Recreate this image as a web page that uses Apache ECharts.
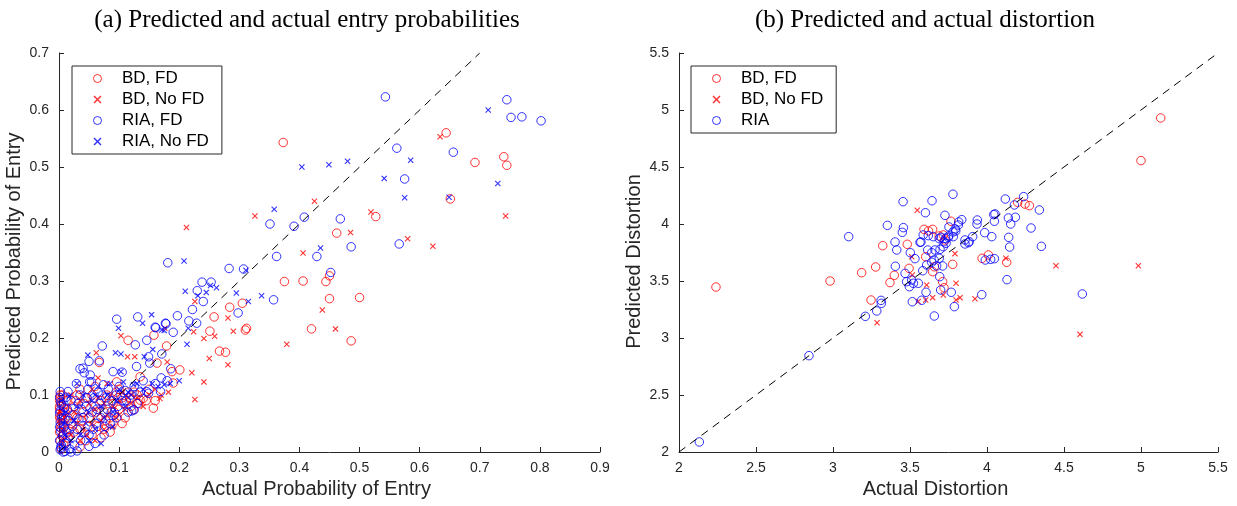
<!DOCTYPE html>
<html>
<head>
<meta charset="utf-8">
<script src="https://cdn.jsdelivr.net/npm/echarts@6/dist/echarts.min.js"></script>
<style>
html,body{margin:0;padding:0;background:#fff;}
#c{width:1237px;height:506px;}
</style>
</head>
<body>
<div id="c"></div>
<script>
// ---------- Panel (a): entry probabilities  [actual, predicted] ----------
const a_BD_FD = [
[0.373,0.543],[0.644,0.560],[0.692,0.508],[0.740,0.518],[0.745,0.503],[0.651,0.444],[0.527,0.413],[0.462,0.384],
[0.450,0.309],[0.406,0.300],[0.444,0.299],[0.450,0.269],[0.500,0.271],[0.420,0.216],[0.486,0.195],[0.375,0.299],
[0.258,0.237],[0.251,0.212],[0.305,0.261],[0.284,0.254],[0.310,0.214],[0.312,0.217],[0.267,0.177],[0.277,0.175],
[0.201,0.144],[0.190,0.121],[0.179,0.186],[0.158,0.205],[0.115,0.196],[0.067,0.157],[0.188,0.141],[0.163,0.156],
[0.135,0.132],[0.096,0.123],[0.157,0.077],[0.135,0.091],[0.124,0.074],[0.132,0.085],[0.140,0.094],[0.035,0.009],
[0.002,0.095],[0.003,0.085],[0.001,0.075],[0.004,0.065],[0.002,0.058],[0.006,0.050],[0.003,0.042],[0.001,0.035],
[0.005,0.028],[0.002,0.020],[0.008,0.012],[0.004,0.005],[0.010,0.070],[0.012,0.090],[0.006,0.100],[0.015,0.060],
[0.008,0.030],[0.020,0.050],[0.025,0.080],[0.030,0.100],[0.035,0.040],[0.040,0.070],[0.045,0.095],[0.050,0.060],
[0.055,0.100],[0.060,0.080],[0.065,0.045],[0.070,0.090],[0.075,0.070],[0.080,0.100],[0.085,0.060],[0.090,0.085],
[0.095,0.105],[0.100,0.075],[0.105,0.095],[0.110,0.060],[0.115,0.105],[0.120,0.080],[0.130,0.100],[0.145,0.090],
[0.150,0.110],[0.055,0.030],[0.045,0.020],[0.075,0.040],[0.090,0.050],[0.060,0.115],[0.035,0.110],[0.100,0.110],
[0.030,0.060],[0.070,0.025],[0.085,0.035],[0.025,0.035],[0.015,0.025],[0.105,0.050],[0.160,0.090],[0.065,0.060],
[0.001,0.090],[0.001,0.062],[0.003,0.048],[0.001,0.080],[0.007,0.070],[0.002,0.100],[0.010,0.045],[0.012,0.018],
[0.018,0.040],[0.022,0.065],[0.028,0.090],[0.038,0.055],[0.042,0.085],[0.048,0.045],[0.062,0.070],[0.078,0.055],
[0.082,0.085],[0.092,0.070],[0.098,0.095],[0.108,0.085],[0.118,0.095],[0.125,0.105]
];
const a_BD_NoFD = [
[0.634,0.553],[0.425,0.440],[0.519,0.421],[0.485,0.385],[0.743,0.414],[0.406,0.349],[0.580,0.374],[0.622,0.361],
[0.438,0.249],[0.460,0.216],[0.212,0.394],[0.326,0.414],[0.379,0.189],[0.226,0.264],[0.281,0.235],[0.290,0.212],
[0.259,0.203],[0.241,0.199],[0.224,0.211],[0.176,0.217],[0.281,0.153],[0.250,0.164],[0.221,0.139],[0.241,0.123],
[0.226,0.092],[0.182,0.105],[0.180,0.158],[0.103,0.204],[0.062,0.174],[0.114,0.167],[0.126,0.167],[0.168,0.094],
[0.005,0.040],[0.010,0.060],[0.015,0.080],[0.020,0.030],[0.025,0.070],[0.030,0.050],[0.035,0.090],[0.040,0.040],
[0.045,0.065],[0.050,0.085],[0.055,0.050],[0.060,0.075],[0.065,0.095],[0.070,0.055],[0.075,0.085],[0.080,0.065],
[0.085,0.100],[0.090,0.080],[0.095,0.060],[0.100,0.090],[0.105,0.105],[0.110,0.075],[0.115,0.095],[0.120,0.085],
[0.130,0.095],[0.140,0.080],[0.150,0.100],[0.160,0.110],[0.170,0.100],[0.045,0.030],[0.060,0.020],[0.075,0.040],
[0.035,0.020],[0.090,0.045],[0.100,0.065],[0.020,0.100],[0.055,0.110],[0.065,0.130],[0.080,0.120],
[0.002,0.070],[0.003,0.090],[0.001,0.055],[0.004,0.020]
];
const a_RIA_FD = [
[0.543,0.623],[0.745,0.618],[0.752,0.587],[0.770,0.588],[0.802,0.581],[0.562,0.533],[0.656,0.526],[0.575,0.479],
[0.408,0.412],[0.468,0.409],[0.429,0.343],[0.486,0.360],[0.566,0.365],[0.452,0.315],[0.181,0.332],[0.351,0.400],
[0.391,0.396],[0.362,0.343],[0.283,0.322],[0.307,0.321],[0.253,0.298],[0.238,0.298],[0.230,0.283],[0.240,0.264],
[0.222,0.250],[0.216,0.230],[0.229,0.226],[0.298,0.244],[0.357,0.267],[0.186,0.146],[0.178,0.225],[0.197,0.239],
[0.171,0.172],[0.161,0.218],[0.146,0.196],[0.131,0.237],[0.127,0.188],[0.096,0.233],[0.072,0.186],[0.067,0.160],
[0.050,0.159],[0.035,0.146],[0.042,0.139],[0.051,0.123],[0.177,0.226],[0.160,0.219],[0.190,0.210],[0.169,0.106],
[0.002,0.004],[0.004,0.012],[0.001,0.020],[0.006,0.028],[0.003,0.036],[0.008,0.044],[0.002,0.052],[0.005,0.060],
[0.001,0.068],[0.009,0.078],[0.003,0.088],[0.012,0.096],[0.002,0.106],[0.015,0.106],[0.011,0.015],[0.013,0.035],
[0.016,0.055],[0.014,0.075],[0.018,0.005],[0.020,0.090],[0.025,0.065],[0.029,0.120],[0.030,0.040],[0.032,0.085],
[0.035,0.100],[0.036,0.020],[0.040,0.147],[0.040,0.060],[0.045,0.080],[0.048,0.110],[0.050,0.030],[0.052,0.135],
[0.054,0.123],[0.055,0.070],[0.058,0.095],[0.060,0.015],[0.062,0.050],[0.065,0.105],[0.068,0.085],[0.070,0.060],
[0.074,0.118],[0.075,0.030],[0.078,0.095],[0.080,0.075],[0.082,0.110],[0.085,0.050],[0.088,0.090],[0.090,0.141],
[0.092,0.065],[0.095,0.100],[0.098,0.080],[0.100,0.115],[0.105,0.090],[0.110,0.108],[0.115,0.070],[0.121,0.072],
[0.125,0.074],[0.120,0.100],[0.125,0.115],[0.130,0.085],[0.135,0.105],[0.129,0.150],[0.146,0.106],[0.149,0.103],
[0.149,0.167],[0.151,0.156],[0.160,0.120],[0.170,0.130],[0.180,0.125],[0.140,0.125],[0.105,0.140],[0.020,0.000],
[0.030,0.002],[0.010,0.001],[0.050,0.010],
[0.001,0.044],[0.002,0.072],[0.001,0.096],[0.004,0.083],[0.003,0.008],[0.007,0.000],[0.010,0.058],[0.018,0.028],
[0.022,0.045],[0.026,0.012],[0.033,0.058],[0.038,0.075],[0.043,0.035],[0.047,0.095],[0.057,0.040],[0.063,0.075],
[0.072,0.100],[0.076,0.045],[0.087,0.070],[0.096,0.060],[0.102,0.100],[0.112,0.090]
];
const a_RIA_NoFD = [
[0.714,0.600],[0.585,0.512],[0.449,0.504],[0.480,0.510],[0.404,0.500],[0.541,0.480],[0.730,0.471],[0.575,0.446],
[0.649,0.447],[0.435,0.358],[0.358,0.426],[0.208,0.335],[0.311,0.319],[0.252,0.292],[0.231,0.274],[0.245,0.280],
[0.262,0.288],[0.210,0.282],[0.215,0.217],[0.213,0.189],[0.295,0.279],[0.315,0.264],[0.337,0.274],[0.175,0.213],
[0.171,0.214],[0.154,0.241],[0.139,0.226],[0.156,0.180],[0.103,0.172],[0.094,0.174],[0.048,0.170],[0.099,0.217],
[0.142,0.167],[0.103,0.141],[0.107,0.123],[0.089,0.044],[0.124,0.118],
[0.005,0.010],[0.010,0.030],[0.008,0.050],[0.012,0.070],[0.004,0.090],[0.020,0.020],[0.025,0.055],[0.030,0.080],
[0.035,0.030],[0.040,0.100],[0.045,0.050],[0.050,0.070],[0.055,0.090],[0.060,0.040],[0.065,0.115],[0.070,0.080],
[0.075,0.060],[0.080,0.100],[0.085,0.120],[0.090,0.070],[0.095,0.090],[0.100,0.110],[0.110,0.080],[0.115,0.105],
[0.120,0.100],[0.130,0.120],[0.140,0.110],[0.155,0.120],[0.165,0.115],[0.175,0.118],[0.185,0.120],[0.200,0.125],
[0.050,0.020],[0.070,0.015],[0.030,0.120],[0.060,0.100],[0.017,0.098]
];
const a_diag = [[0,0],[0.7,0.7]];
const a_xTicks = ['0','0.1','0.2','0.3','0.4','0.5','0.6','0.7','0.8','0.9'];
const a_yTicks = ['0','0.1','0.2','0.3','0.4','0.5','0.6','0.7'];

// ---------- Panel (b): distortion  [actual, predicted] ----------
const b_BD_FD = [
[2.240,3.447],[2.981,3.500],[3.186,3.573],[3.277,3.623],[3.323,3.810],[3.398,3.550],[3.370,3.486],[3.247,3.333],
[3.482,3.822],[3.494,3.611],[3.591,3.953],[3.647,3.953],[3.766,4.024],[3.716,3.904],[3.727,3.860],[3.602,3.713],
[3.658,3.625],[3.647,3.582],[3.777,3.646],[3.712,3.494],[3.721,3.441],[3.968,3.699],[4.009,3.728],[4.128,3.664],
[4.199,4.190],[4.247,4.175],[4.275,4.161],[3.690,3.895],[3.620,3.940],[5.128,4.930],[5.000,4.556]
];
const b_BD_NoFD = [
[3.547,4.120],[3.511,3.713],[3.792,3.740],[3.515,3.553],[3.608,3.465],[3.647,3.354],[3.602,3.333],[3.716,3.377],
[3.799,3.480],[3.825,3.354],[3.799,3.333],[3.922,3.345],[3.286,3.134],[4.123,3.699],[4.448,3.634],[4.604,3.032],
[4.983,3.634],[3.553,3.320]
];
const b_RIA = [
[2.132,2.088],[2.844,2.845],[3.210,3.190],[3.284,3.237],[3.314,3.304],[3.312,3.330],[3.102,3.889],[3.353,3.988],
[3.455,4.196],[3.643,4.204],[3.779,4.261],[3.600,4.099],[3.727,4.076],[3.457,3.968],[3.450,3.927],[3.403,3.842],
[3.414,3.772],[3.502,3.748],[3.532,3.696],[3.571,3.842],[3.586,3.904],[3.619,3.898],[3.651,3.889],[3.615,3.772],
[3.641,3.748],[3.662,3.772],[3.695,3.778],[3.716,3.801],[3.690,3.871],[3.749,3.883],[3.781,3.889],[3.797,3.939],
[3.814,3.991],[3.836,4.038],[3.753,3.974],[3.857,3.825],[3.879,3.836],[3.907,3.889],[3.937,4.035],[3.935,4.000],
[3.985,3.924],[4.031,3.889],[4.044,4.082],[4.052,4.088],[4.048,4.024],[4.119,4.219],[4.178,4.167],[4.238,4.240],
[4.139,4.053],[4.184,4.059],[4.154,4.000],[4.340,4.123],[4.286,3.965],[4.141,3.883],[4.147,3.798],[4.353,3.804],
[3.989,3.684],[4.024,3.690],[4.048,3.696],[4.130,3.512],[3.405,3.629],[3.468,3.567],[3.478,3.494],[3.511,3.509],
[3.496,3.450],[3.522,3.480],[3.554,3.480],[3.583,3.590],[3.608,3.640],[3.641,3.664],[3.656,3.684],[3.690,3.699],
[3.712,3.632],[3.673,3.632],[3.693,3.538],[3.604,3.401],[3.576,3.331],[3.515,3.318],[3.699,3.421],[3.768,3.401],
[3.788,3.275],[3.658,3.193],[3.966,3.380],[4.619,3.386],[3.565,3.839],[3.857,3.860],[3.885,3.845],[3.734,3.831],
[3.721,3.845],[3.779,3.930],[3.794,3.956],[3.816,4.018],[3.701,3.883],[3.732,3.874],[3.751,3.895]
];
const b_diag = [[2,2],[5.5,5.5]];
const b_xTicks = ['2','2.5','3','3.5','4','4.5','5','5.5'];
const b_yTicks = ['2','2.5','3','3.5','4','4.5','5','5.5'];

// ---------- styling ----------
const RED = '#ff0000', BLUE = '#0000ff', AX = '#262626';
// filled "x" glyph (thin diagonal bars)
const XSYM = 'path://M0,1.3L1.3,0L5,3.7L8.7,0L10,1.3L6.3,5L10,8.7L8.7,10L5,6.3L1.3,10L0,8.7L3.7,5Z';
const SANS = '"Liberation Sans", Arial, sans-serif';
const SERIF = '"Liberation Serif", "Times New Roman", serif';
const CLEAR = 'rgba(0,0,0,0)';

function circ(name, data, color, xi) {
  return {name, type:'scatter', data, xAxisIndex:xi, yAxisIndex:xi, symbol:'circle', symbolSize:8.5,
    itemStyle:{color:CLEAR, borderColor:color, borderWidth:1}, emphasis:{disabled:true}, silent:true};
}
function cross(name, data, color, xi) {
  return {name, type:'scatter', data, xAxisIndex:xi, yAxisIndex:xi, symbol:XSYM, symbolSize:6,
    itemStyle:{color:color, borderWidth:0}, emphasis:{disabled:true}, silent:true};
}
function diag(data, xi) {
  return {type:'line', data, xAxisIndex:xi, yAxisIndex:xi, symbol:'none', silent:true, z:5,
    lineStyle:{color:'#000', width:1, type:[8,6]}};
}
function xAx(gi, min, max, interval, ticks, name) {
  return {type:'value', gridIndex:gi, min, max, interval, name, nameLocation:'middle', nameGap:27,
    nameTextStyle:{fontFamily:SANS, fontSize:20, color:AX, padding:[0,26,0,0]},
    axisLine:{show:true, lineStyle:{color:AX, width:1}},
    axisTick:{show:true, inside:true, length:5, lineStyle:{color:AX}},
    axisLabel:{margin:9, fontFamily:SANS, fontSize:14, color:AX,
      formatter:(v)=>ticks[Math.round((v-min)/interval)]},
    splitLine:{show:false}};
}
function yAx(gi, min, max, interval, ticks, name) {
  return {type:'value', gridIndex:gi, min, max, interval, name, nameLocation:'middle', nameGap:35,
    nameTextStyle:{fontFamily:SANS, fontSize:20, color:AX, padding:[0,18,0,0]},
    axisLine:{show:true, lineStyle:{color:AX, width:1}},
    axisTick:{show:true, inside:true, length:5, lineStyle:{color:AX}},
    axisLabel:{margin:10, fontFamily:SANS, fontSize:14, color:AX,
      formatter:(v)=>ticks[Math.round((v-min)/interval)]},
    splitLine:{show:false}};
}
function legCirc(name, color) {
  return {name, icon:'circle', itemStyle:{color:CLEAR, borderColor:color, borderWidth:1}};
}
function legCross(name, color) {
  return {name, icon:XSYM, itemStyle:{color:color, borderColor:color, borderWidth:0}};
}
function legend(left, items, rightPad) {
  return {left, top:66, orient:'vertical', selectedMode:false, data:items,
    itemWidth:25, itemHeight:8, itemGap:4, padding:[4,rightPad,4,21],
    borderColor:AX, borderWidth:1,
    textStyle:{fontFamily:SANS, fontSize:17, color:'#000', lineHeight:17, padding:[0,0,0,7]}};
}

const chart = echarts.init(document.getElementById('c'), null, {renderer:'canvas'});
chart.setOption({
  animation:false,
  backgroundColor:'#fff',
  title:[
    {text:'(a) Predicted and actual entry probabilities', left:302, top:3, textAlign:'center',
     textStyle:{fontFamily:SERIF, fontSize:25, fontWeight:'normal', color:'#000'}},
    {text:'(b) Predicted and actual distortion', left:920, top:3, textAlign:'center',
     textStyle:{fontFamily:SERIF, fontSize:25, fontWeight:'normal', color:'#000'}}
  ],
  grid:[
    {left:59, top:53, width:541, height:399},
    {left:679, top:53, width:539, height:399}
  ],
  xAxis:[
    xAx(0, 0, 0.9, 0.1, a_xTicks, 'Actual Probability of Entry'),
    xAx(1, 2, 5.5, 0.5, b_xTicks, 'Actual Distortion')
  ],
  yAxis:[
    yAx(0, 0, 0.7, 0.1, a_yTicks, 'Predicted Probability of Entry'),
    yAx(1, 2, 5.5, 0.5, b_yTicks, 'Predicted Distortion')
  ],
  legend:[
    legend(72, [legCirc('BD, FD',RED), legCross('BD, No FD',RED),
                legCirc('RIA, FD',BLUE), legCross('RIA, No FD',BLUE)], 13),
    legend(691, [legCirc('BD, FD',RED), legCross('BD, No FD',RED), legCirc('RIA',BLUE)], 13)
  ],
  series:[
    circ('BD, FD', a_BD_FD, RED, 0),
    cross('BD, No FD', a_BD_NoFD, RED, 0),
    circ('RIA, FD', a_RIA_FD, BLUE, 0),
    cross('RIA, No FD', a_RIA_NoFD, BLUE, 0),
    diag(a_diag, 0),
    circ('BD, FD', b_BD_FD, RED, 1),
    cross('BD, No FD', b_BD_NoFD, RED, 1),
    circ('RIA', b_RIA, BLUE, 1),
    diag(b_diag, 1)
  ]
});
</script>
</body>
</html>
